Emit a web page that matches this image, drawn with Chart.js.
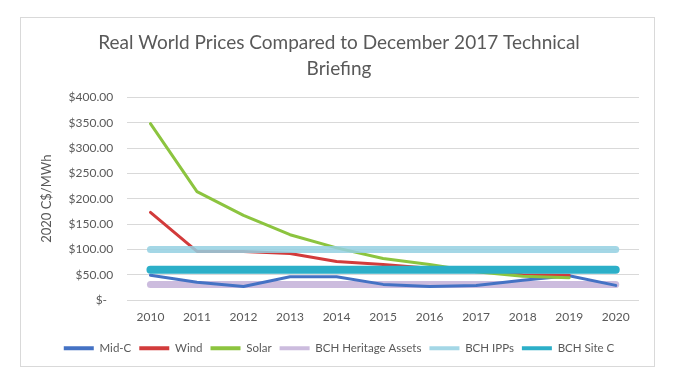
<!DOCTYPE html>
<html>
<head>
<meta charset="utf-8">
<script src="https://cdn.jsdelivr.net/npm/chart.js@4/dist/chart.umd.min.js"></script>
<style>
  body { margin: 0; background: #fff; }
  #frame { position: absolute; left: 20px; top: 17px; width: 633px; height: 348px; border: 1px solid #d9d9d9; }
  canvas { display: block; }
</style>
</head>
<body>
<div id="frame"><canvas id="chart" width="633" height="348"></canvas></div>
<script>
const years = ['2010', '2011', '2012', '2013', '2014', '2015', '2016', '2017', '2018', '2019', '2020'];
const midC = [49, 35, 27, 46, 46, 31, 27, 29, 39, 48, 29];
const wind = [173, 96, 96, 92, 76, 70, 63, 58, 50, 49, null];
const solar = [348, 214, 167, 129, 103, 82, 70, 56, 47, 44, null];
const heritage = [31, 31, 31, 31, 31, 31, 31, 31, 31, 31, 31];
const ipps = [100, 100, 100, 100, 100, 100, 100, 100, 100, 100, 100];
const siteC = [60, 60, 60, 60, 60, 60, 60, 60, 60, 60, 60];

const grey = '#595959';
const font = 'Lato, "Open Sans", sans-serif';

// helper so every series gets the same line settings
function series(label, data, color, width, order) {
    return {
        label: label,
        data: data,
        borderColor: color,
        backgroundColor: color,
        borderWidth: width,
        borderCapStyle: 'round',
        borderJoinStyle: 'round',
        pointRadius: 0,
        pointHoverRadius: 0,
        tension: 0,
        fill: false,
        order: order
    };
}

const ctx = document.getElementById('chart').getContext('2d');
new Chart(ctx, {
    type: 'line',
    data: {
        labels: years,
        datasets: [
            series('Mid-C', midC, '#4472C4', 3, 5),
            series('Wind', wind, '#D23B3B', 3, 4),
            series('Solar', solar, '#8CC43F', 3, 3),
            series('BCH Heritage Assets', heritage, '#CCBCDE', 7, 6),
            series('BCH IPPs', ipps, 'rgba(148,208,226,0.85)', 7, 2),
            series('BCH Site C', siteC, '#2CAFC8', 8, 1)
        ]
    },
    options: {
        responsive: false,
        animation: false,
        layout: { padding: { left: 18, right: 15, top: 12, bottom: 2 } },
        plugins: {
            title: {
                display: true,
                text: ['Real World Prices Compared to December 2017 Technical', 'Briefing'],
                color: grey,
                font: { family: font, size: 19, weight: 'normal', lineHeight: 1.35 },
                padding: { top: 0, bottom: 16 }
            },
            legend: {
                position: 'bottom',
                labels: {
                    color: grey,
                    font: { family: font, size: 11.5 },
                    usePointStyle: true,
                    pointStyle: 'line',
                    pointStyleWidth: 30,
                    boxHeight: 10,
                    padding: 8,
                    generateLabels: (chart) => {
                        const items = Chart.defaults.plugins.legend.labels.generateLabels(chart);
                        items.sort((a, b) => a.datasetIndex - b.datasetIndex);
                        items.forEach(it => { it.lineWidth = 4; it.pointStyle = 'line'; });
                        return items;
                    }
                }
            },
            tooltip: { enabled: false }
        },
        scales: {
            x: {
                offset: true,
                grid: { display: false, drawTicks: false },
                border: { display: false },
                ticks: { color: grey, font: { family: font, size: 12 }, padding: 10 }
            },
            y: {
                min: 0,
                max: 400,
                grid: { color: '#d9d9d9', drawTicks: false },
                border: { display: false },
                ticks: {
                    stepSize: 50,
                    color: grey,
                    font: { family: font, size: 12 },
                    padding: 14,
                    callback: (v) => v === 0 ? '$-  ' : '$' + v.toFixed(2)
                },
                title: {
                    display: true,
                    text: '2020 C$/MWh',
                    color: grey,
                    font: { family: font, size: 13 },
                    padding: 0
                }
            }
        }
    }
});
</script>
</body>
</html>
